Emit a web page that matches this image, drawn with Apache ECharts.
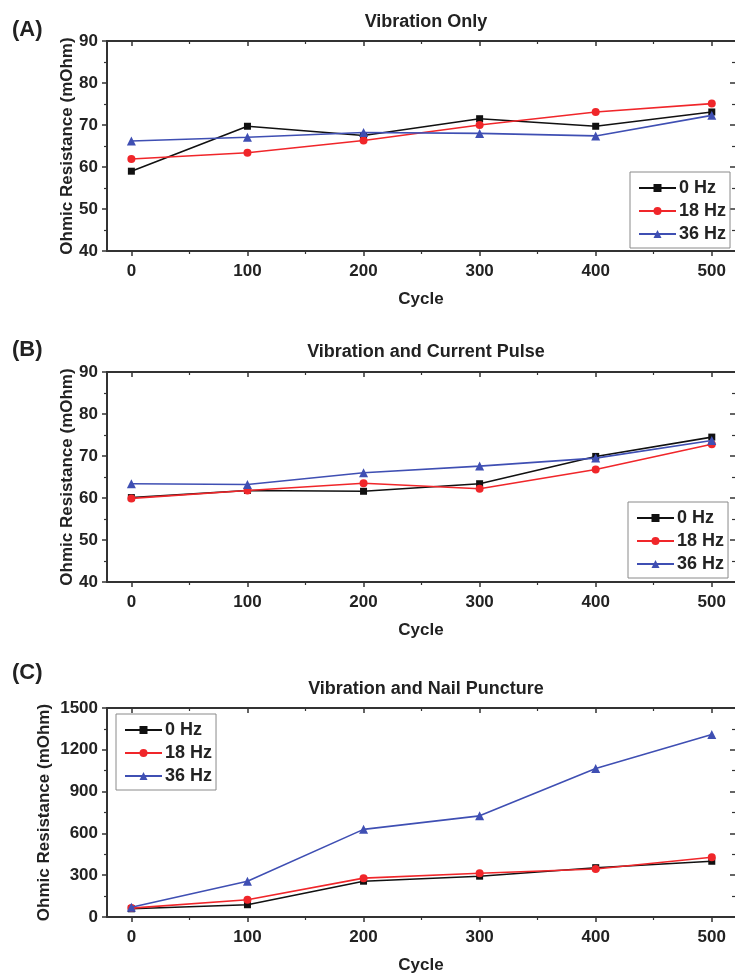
<!DOCTYPE html>
<html>
<head>
<meta charset="utf-8">
<script src="https://cdn.jsdelivr.net/npm/echarts@6/dist/echarts.min.js"></script>
<style>
  html, body { margin: 0; background: #fff; }
  #chart { width: 735px; height: 975px; }
</style>
</head>
<body>
<div id="chart"></div>
<script>
// data
var cycles = [0, 100, 200, 300, 400, 500];
var seriesNames = ["0 Hz", "18 Hz", "36 Hz"];
var xMajor = [0, 100, 200, 300, 400, 500];
var xMinor = [50, 150, 250, 350, 450];

var vibOnly0 = [59.0, 69.7, 67.5, 71.5, 69.7, 73.1];
var vibOnly18 = [61.9, 63.4, 66.3, 70.0, 73.1, 75.1];
var vibOnly36 = [66.2, 67.1, 68.2, 68.0, 67.4, 72.3];

var pulse0 = [60.1, 61.8, 61.6, 63.4, 69.9, 74.5];
var pulse18 = [59.9, 61.8, 63.5, 62.2, 66.8, 72.8];
var pulse36 = [63.4, 63.2, 66.0, 67.6, 69.5, 73.7];

var nail0 = [59, 88, 257, 293, 354, 400];
var nail18 = [64, 124, 279, 314, 345, 429];
var nail36 = [70, 257, 629, 726, 1066, 1310];

var panelLetters = ["(A)", "(B)", "(C)"];
var panelTitles = ["Vibration Only", "Vibration and Current Pulse", "Vibration and Nail Puncture"];

(function () {
  var font = "Liberation Sans";
  var ink = "#222";
  var colors = ["#111111", "#f0262a", "#3f4fb3"];
  var symbols = ["rect", "circle", "triangle"];
  var symbolSizes = [7, 8, 9];
  var xMin = -21, xMax = 520;

  var grids = [], xAxes = [], yAxes = [], series = [], legends = [], graphics = [];

  function pairs(vals) {
    return vals.map(function (v, i) { return [cycles[i], v]; });
  }

  function plain(v) { return String(v); }

  function addPanel(p, sets, yMin, yMax, yStep, nameGap, legendPos, top, letterY, titleY) {
    grids.push({ left: 107, top: top, width: 632, height: 210 });
    var g = grids.length - 1;
    var lineStyle = { color: "#333", width: 2 };
    var majorTick = { color: "#333", width: 1.5 };
    var minorTick = { color: "#333", width: 1.2 };
    // bottom axis: labels, ticks pointing out
    xAxes.push({
      gridIndex: g, type: "value", min: xMin, max: xMax, position: "bottom",
      axisLine: { onZero: false, lineStyle: lineStyle },
      axisTick: { inside: false, length: 5, customValues: xMajor, lineStyle: majorTick },
      axisLabel: { customValues: xMajor, margin: 12, color: ink, fontFamily: font, fontWeight: "bold", fontSize: 17, formatter: plain },
      splitLine: { show: false },
      name: "Cycle", nameLocation: "middle", nameGap: 40, nameMoveOverlap: false,
      nameTextStyle: { color: ink, fontFamily: font, fontWeight: "bold", fontSize: 17 }
    });
    xAxes.push({
      gridIndex: g, type: "value", min: xMin, max: xMax, position: "bottom",
      axisLine: { show: false, onZero: false },
      axisTick: { inside: false, length: 3, customValues: xMinor, lineStyle: minorTick },
      axisLabel: { show: false }, splitLine: { show: false }
    });
    // top frame, ticks pointing in
    xAxes.push({
      gridIndex: g, type: "value", min: xMin, max: xMax, position: "top",
      axisLine: { onZero: false, lineStyle: lineStyle },
      axisTick: { inside: true, length: 5, customValues: xMajor, lineStyle: majorTick },
      axisLabel: { show: false }, splitLine: { show: false }
    });
    xAxes.push({
      gridIndex: g, type: "value", min: xMin, max: xMax, position: "top",
      axisLine: { show: false, onZero: false },
      axisTick: { inside: true, length: 3, customValues: xMinor, lineStyle: minorTick },
      axisLabel: { show: false }, splitLine: { show: false }
    });
    yAxes.push({
      gridIndex: g, type: "value", min: yMin, max: yMax, interval: yStep, position: "left",
      axisLine: { show: true, onZero: false, lineStyle: lineStyle },
      axisTick: { show: true, inside: false, length: 5, lineStyle: majorTick },
      minorTick: { show: true, splitNumber: 2, length: 3, lineStyle: minorTick },
      axisLabel: { margin: 9, color: ink, fontFamily: font, fontWeight: "bold", fontSize: 17, formatter: plain },
      splitLine: { show: false },
      name: "Ohmic Resistance (mOhm)", nameLocation: "middle", nameGap: nameGap, nameMoveOverlap: false,
      nameTextStyle: { color: ink, fontFamily: font, fontWeight: "bold", fontSize: 17 }
    });
    // right side: frame falls just outside the crop, only tick ends show
    yAxes.push({
      gridIndex: g, type: "value", min: yMin, max: yMax, interval: yStep, position: "right",
      axisLine: { show: false, onZero: false },
      axisTick: { show: true, inside: true, length: 5, lineStyle: majorTick },
      minorTick: { show: true, splitNumber: 2, length: 3, lineStyle: minorTick },
      axisLabel: { show: false },
      splitLine: { show: false }
    });
    sets.forEach(function (vals, k) {
      series.push({
        name: seriesNames[k], type: "line",
        xAxisIndex: g * 4, yAxisIndex: g * 2,
        data: pairs(vals),
        symbol: symbols[k], symbolSize: symbolSizes[k],
        itemStyle: { color: colors[k] },
        lineStyle: { color: colors[k], width: 1.6 },
        z: 3 + k,
        animation: false
      });
    });
    legends.push({
      left: legendPos[0], top: legendPos[1], orient: "vertical",
      data: seriesNames,
      borderColor: "#8a8a8a", borderWidth: 1, borderRadius: 0,
      padding: [7, 4, 5, 8], itemGap: 5, itemWidth: 37, itemHeight: 10,
      selectedMode: false,
      textStyle: { color: ink, fontFamily: font, fontWeight: "bold", fontSize: 18, lineHeight: 18, padding: [0, 0, 0, -2] }
    });
    graphics.push({
      type: "text", left: 12, top: letterY - 13,
      style: { text: panelLetters[p], font: "bold 22px 'Liberation Sans'", fill: ink }
    });
    graphics.push({
      type: "text", x: 426, y: titleY,
      style: { text: panelTitles[p], font: "bold 18px 'Liberation Sans'", fill: ink, align: "center", verticalAlign: "middle" }
    });
  }

  addPanel(0, [vibOnly0, vibOnly18, vibOnly36], 40, 90, 10, 31, [630, 172], 41, 32, 22);
  addPanel(1, [pulse0, pulse18, pulse36], 40, 90, 10, 31, [628, 502], 372, 352, 352);
  addPanel(2, [nail0, nail18, nail36], 0, 1500, 300, 54, [116, 714], 708, 675, 689);

  var myChart = echarts.init(document.getElementById("chart"));
  myChart.setOption({
    animation: false,
    backgroundColor: "#fff",
    grid: grids,
    xAxis: xAxes,
    yAxis: yAxes,
    legend: legends,
    series: series,
    graphic: graphics
  });
})();
</script>
</body>
</html>
